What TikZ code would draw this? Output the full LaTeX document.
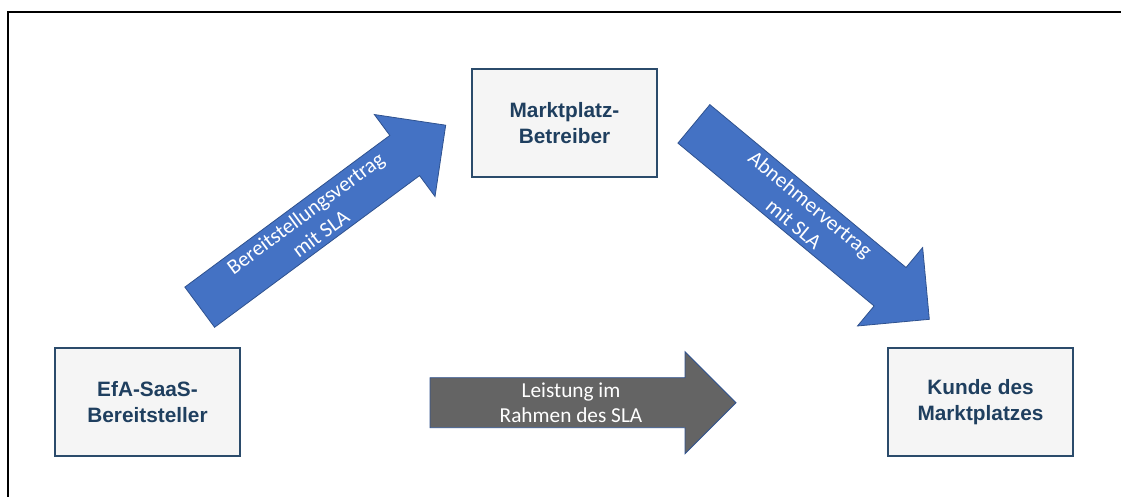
\documentclass[tikz,border=0pt]{standalone}
\usepackage{fontspec}
\setmainfont{Carlito}
\newfontfamily\boxfont{Liberation Sans}
\definecolor{boxline}{HTML}{2B4B6B}
\definecolor{boxfill}{HTML}{F5F5F5}
\definecolor{boxtext}{HTML}{1F3F5F}
\definecolor{arrowblue}{HTML}{4472C4}
\definecolor{arrowline}{HTML}{2F528F}
\definecolor{arrowgray}{HTML}{646464}
\tikzset{
  party/.style={draw=boxline, line width=2pt, fill=boxfill, minimum width=185pt,
    minimum height=108pt, align=center, text=boxtext,
    font=\boxfont\bfseries\fontsize{20.8}{26}\selectfont, inner sep=0pt},
  blockarrow/.style={draw=arrowline, line width=0.8pt, line join=miter},
  arrowlabel/.style={text=white, align=center, inner sep=0pt,
    font=\fontsize{21.3}{25.8}\selectfont},
}
\newcommand{\blockshape}{(-153,-25) -- (102,-25) -- (102,-51) -- (153,0) -- (102,51) -- (102,25) -- (-153,25) -- cycle}
\begin{document}
\begin{tikzpicture}[x=1pt,y=1pt]
\useasboundingbox (0,0) rectangle (1121,497);
% outer frame (top and left visible)
\draw[line width=2pt, black] (8,-2) -- (8,485) -- (1123,485);

% parties
\node[party] (efa) at (147.5,95) {EfA-SaaS-\\Bereitsteller};
\node[party] (mp) at (564.5,374) {Marktplatz-\\Betreiber};
\node[party] (kunde) at (980.5,95) {Kunde des\\Marktplatzes};

% Bereitstellungsvertrag arrow
\begin{scope}[shift={(322.7,280.8)}, rotate=36.5, transform shape]
  \path[blockarrow, fill=arrowblue] \blockshape;
  \node[arrowlabel] (bv) at (-12,0) {Bereitstellungsvertrag\\mit SLA};
\end{scope}

% Abnehmervertrag arrow
\begin{scope}[shift={(811.6,275.4)}, rotate=-39.7, transform shape]
  \path[blockarrow, fill=arrowblue] \blockshape;
  \node[arrowlabel] (av) at (-12,0) {Abnehmervertrag\\mit SLA};
\end{scope}

% Leistung arrow
\begin{scope}[shift={(583,94.3)}]
  \path[blockarrow, fill=arrowgray] \blockshape;
  \node[arrowlabel] (ls) at (-12,0) {Leistung im\\Rahmen des SLA};
\end{scope}
\end{tikzpicture}
\end{document}
